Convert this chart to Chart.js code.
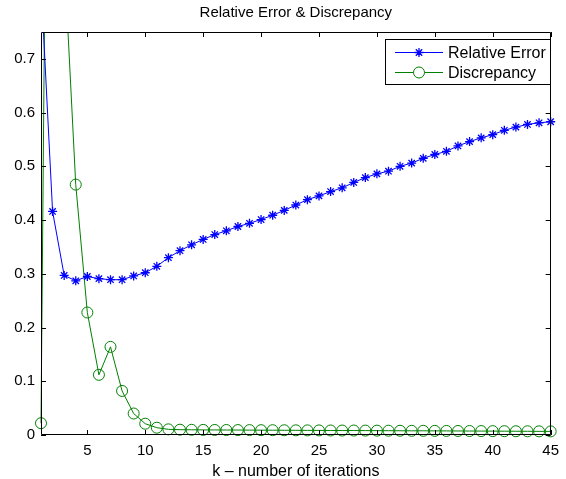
<!DOCTYPE html>
<html>
<head>
<meta charset="utf-8">
<script src="https://cdn.jsdelivr.net/npm/chart.js@4/dist/chart.umd.min.js"></script>
<style>
  html, body { margin: 0; padding: 0; background: #fff; }
  #wrap { width: 566px; height: 479px; }
</style>
</head>
<body>
<div id="wrap"><canvas id="grafico" width="566" height="479"></canvas></div>
<script>
// iteraciones k = 1..45
const iteraciones = [1,2,3,4,5,6,7,8,9,10,11,12,13,14,15,16,17,18,19,20,21,22,23,24,25,26,27,28,29,30,31,32,33,34,35,36,37,38,39,40,41,42,43,44,45];

const errorRelativo = [0.84, 0.416, 0.297, 0.287, 0.295, 0.291, 0.289, 0.289, 0.296, 0.302,
  0.314, 0.330, 0.343, 0.354, 0.364, 0.373, 0.380, 0.388, 0.394, 0.401,
  0.409, 0.418, 0.428, 0.438, 0.445, 0.453, 0.460, 0.470, 0.479, 0.486,
  0.491, 0.500, 0.506, 0.515, 0.522, 0.528, 0.538, 0.546, 0.553, 0.559,
  0.567, 0.573, 0.578, 0.581, 0.583];

const discrepancia = [0.022, 2.5, 0.89, 0.466, 0.228, 0.112, 0.164, 0.082, 0.040, 0.021,
  0.0136, 0.0105, 0.0099, 0.0097, 0.0095, 0.0094, 0.0093, 0.0092, 0.0091, 0.0090,
  0.0089, 0.0088, 0.0087, 0.0086, 0.0085, 0.0084, 0.0083, 0.0083, 0.0082, 0.0081,
  0.0080, 0.0079, 0.0078, 0.0078, 0.0077, 0.0076, 0.0075, 0.0074, 0.0073, 0.0072,
  0.0071, 0.0070, 0.0069, 0.0068, 0.0067];

const ticksX = [5, 10, 15, 20, 25, 30, 35, 40, 45];
const ticksY = [0, 0.1, 0.2, 0.3, 0.4, 0.5, 0.6, 0.7];

const titulo = 'Relative Error & Discrepancy';
const tituloX = 'k \u2013 number of iterations';
const FUENTE = 'Arial, "Liberation Sans", Helvetica, sans-serif';

// caja estilo matlab con ticks hacia adentro + titulo + leyenda
const cajaPlugin = {
  id: 'caja',
  afterDatasetsDraw(chart) {
    const { ctx, chartArea: a, scales } = chart;
    const L = 5;
    ctx.save();
    ctx.strokeStyle = '#000';
    ctx.lineWidth = 1;
    ctx.beginPath();
    ctx.rect(Math.round(a.left) + 0.5, Math.round(a.top) + 0.5, Math.round(a.right - a.left) - 1, Math.round(a.bottom - a.top) - 1);
    ctx.stroke();
    ctx.beginPath();
    ticksX.forEach(v => {
      const x = Math.round(scales.x.getPixelForValue(v)) + 0.5;
      ctx.moveTo(x, a.bottom); ctx.lineTo(x, a.bottom - L);
      ctx.moveTo(x, a.top); ctx.lineTo(x, a.top + L);
    });
    ticksY.forEach(v => {
      const y = Math.round(scales.y.getPixelForValue(v)) + 0.5;
      ctx.moveTo(a.left, y); ctx.lineTo(a.left + L, y);
      ctx.moveTo(a.right, y); ctx.lineTo(a.right - L, y);
    });
    ctx.stroke();
    ctx.restore();
  },
  afterDraw(chart) {
    const { ctx, chartArea: a } = chart;
    ctx.save();
    // titulo
    ctx.fillStyle = '#000';
    ctx.font = '15px ' + FUENTE;
    ctx.textAlign = 'center';
    ctx.textBaseline = 'middle';
    ctx.fillText(titulo, (a.left + a.right) / 2, 13);

    // leyenda
    const bx = 385.5, by = 39.5, bw = 165, bh = 45;
    ctx.fillStyle = '#fff';
    ctx.fillRect(bx, by, bw, bh);
    ctx.strokeStyle = '#000';
    ctx.lineWidth = 1;
    ctx.strokeRect(bx, by, bw, bh);
    ctx.font = '16px ' + FUENTE;
    ctx.textAlign = 'left';
    chart.data.datasets.forEach((ds, i) => {
      const y = 52.5 + i * 20;
      ctx.strokeStyle = ds.borderColor;
      ctx.lineWidth = 1;
      ctx.beginPath();
      ctx.moveTo(395, y); ctx.lineTo(443, y);
      ctx.stroke();
      ctx.fillStyle = '#fff';
      ctx.lineWidth = ds.pointBorderWidth;
      Chart.helpers.drawPoint(ctx, { pointStyle: ds.pointStyle, radius: ds.pointRadius, borderWidth: ds.pointBorderWidth, rotation: 0 }, 419, y);
      ctx.fillStyle = '#000';
      ctx.fillText(ds.label, 448, y + 1);
    });
    ctx.restore();
  }
};

new Chart(document.getElementById('grafico'), {
  type: 'line',
  data: {
    labels: iteraciones,
    datasets: [
      {
        label: 'Relative Error',
        data: iteraciones.map((k, i) => ({ x: k, y: errorRelativo[i] })),
        borderColor: '#0000ff',
        backgroundColor: 'rgba(0,0,0,0)',
        borderWidth: 1,
        pointStyle: 'star',
        pointRadius: 4.5,
        pointBorderWidth: 1.3,
        pointBorderColor: '#0000ff',
        tension: 0,
        clip: { left: 8, right: 8, top: 0, bottom: 8 }
      },
      {
        label: 'Discrepancy',
        data: iteraciones.map((k, i) => ({ x: k, y: discrepancia[i] })),
        borderColor: '#008000',
        backgroundColor: 'rgba(0,0,0,0)',
        borderWidth: 1,
        pointStyle: 'circle',
        pointRadius: 5.5,
        pointBorderWidth: 1,
        pointBorderColor: '#008000',
        pointBackgroundColor: 'rgba(0,0,0,0)',
        tension: 0,
        clip: { left: 8, right: 8, top: 0, bottom: 8 }
      }
    ]
  },
  options: {
    responsive: false,
    animation: false,
    devicePixelRatio: 1,
    layout: { padding: { top: 32, right: 8, left: 0, bottom: 0 } },
    plugins: {
      legend: { display: false },
      title: { display: false },
      tooltip: { enabled: false }
    },
    scales: {
      x: {
        type: 'linear',
        min: 1,
        max: 45,
        grid: { display: false, drawTicks: false },
        border: { display: false },
        afterBuildTicks: s => { s.ticks = ticksX.map(v => ({ value: v })); },
        afterFit: s => { s.height = 44; },
        ticks: {
          color: '#000',
          font: { family: FUENTE, size: 15 },
          padding: 7,
          maxRotation: 0,
          autoSkip: false
        },
        title: {
          display: true,
          text: tituloX,
          color: '#000',
          font: { family: FUENTE, size: 16, lineHeight: 0.9 },
          padding: { top: 0, bottom: 0 }
        }
      },
      y: {
        min: 0,
        max: 0.75,
        grid: { display: false, drawTicks: false },
        border: { display: false },
        afterBuildTicks: s => { s.ticks = ticksY.map(v => ({ value: v })); },
        afterFit: s => { s.width = 41; },
        ticks: {
          color: '#000',
          font: { family: FUENTE, size: 15 },
          padding: 6,
          autoSkip: false,
          callback: v => v === 0 ? '0' : v.toFixed(1)
        }
      }
    }
  },
  plugins: [cajaPlugin]
});
</script>
</body>
</html>
